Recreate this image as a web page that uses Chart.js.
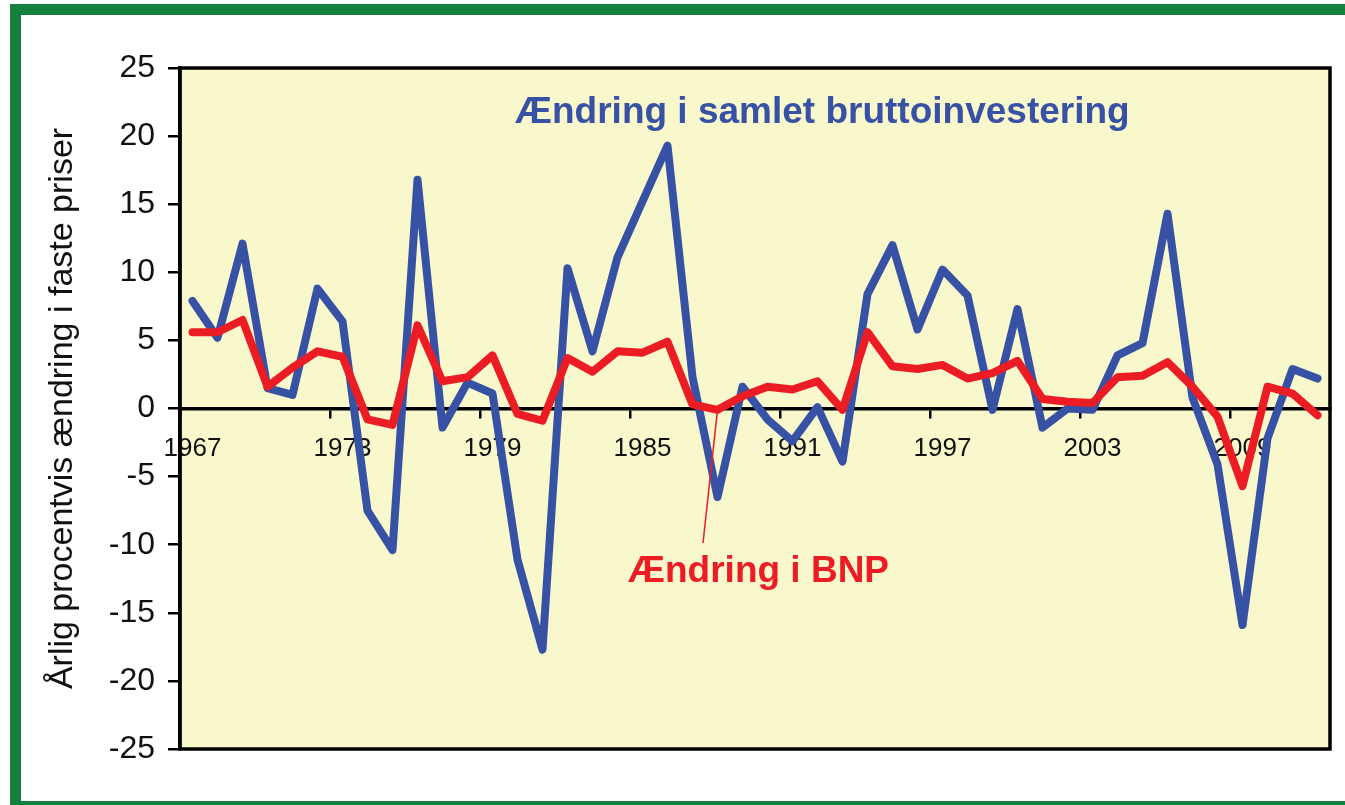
<!DOCTYPE html>
<html>
<head>
<meta charset="utf-8">
<script src="https://cdn.jsdelivr.net/npm/chart.js@4/dist/chart.umd.min.js"></script>
<style>
  html, body { margin: 0; padding: 0; background: #fff; overflow: hidden; }
  #frame {
    position: absolute; left: 10px; top: 4px; width: 1350px; height: 808px;
    border: 11px solid #16803e; box-sizing: border-box; background: #fff;
  }
  #chart { position: absolute; left: 0; top: 0; }
</style>
</head>
<body>
<div id="frame"></div>
<canvas id="chart" width="1345" height="805"></canvas>
<script>
const years = [
  1967, 1968, 1969, 1970, 1971, 1972, 1973, 1974, 1975, 1976,
  1977, 1978, 1979, 1980, 1981, 1982, 1983, 1984, 1985, 1986,
  1987, 1988, 1989, 1990, 1991, 1992, 1993, 1994, 1995, 1996,
  1997, 1998, 1999, 2000, 2001, 2002, 2003, 2004, 2005, 2006,
  2007, 2008, 2009, 2010, 2011, 2012
];

// Ændring i samlet bruttoinvestering (%)
const investering = [
  7.9, 5.2, 12.1, 1.5, 1.0, 8.8, 6.4, -7.5, -10.4, 16.8,
  -1.4, 1.9, 1.1, -11.1, -17.7, 10.3, 4.2, 11.1, 15.2, 19.3,
  2.3, -6.5, 1.6, -0.8, -2.4, 0.1, -3.9, 8.4, 12.0, 5.8,
  10.2, 8.3, -0.1, 7.3, -1.4, 0.0, -0.1, 3.9, 4.8, 14.3,
  0.8, -4.1, -15.9, -2.2, 2.9, 2.2
];

// Ændring i BNP (%)
const bnp = [
  5.6, 5.6, 6.5, 1.6, 3.0, 4.2, 3.8, -0.8, -1.2, 6.1,
  2.0, 2.3, 3.9, -0.4, -0.9, 3.7, 2.7, 4.2, 4.1, 4.9,
  0.3, -0.1, 0.9, 1.6, 1.4, 2.0, -0.1, 5.6, 3.1, 2.9,
  3.2, 2.2, 2.6, 3.5, 0.7, 0.5, 0.4, 2.3, 2.4, 3.4,
  1.6, -0.6, -5.7, 1.6, 1.1, -0.5
];

const labelEvery = 6;
const yTicks = { min: -25, max: 25, step: 5 };

const BLUE = '#3751a4';
const RED = '#ec1c24';
const FONT = 'Arial, "Liberation Sans", sans-serif';

const plotFrame = {
  id: 'plotFrame',
  beforeDraw(chart) {
    const { ctx, chartArea: a } = chart;
    ctx.save();
    ctx.fillStyle = '#f9f7cc';
    ctx.fillRect(a.left, a.top, a.right - a.left, a.bottom - a.top);
    ctx.restore();
  },
  beforeDatasetsDraw(chart) {
    const { ctx, chartArea: a } = chart;
    ctx.save();
    ctx.strokeStyle = '#000';
    ctx.lineWidth = 3.5;
    ctx.strokeRect(a.left, a.top, a.right - a.left, a.bottom - a.top);
    ctx.restore();
  }
};

const seriesLabels = {
  id: 'seriesLabels',
  afterDatasetsDraw(chart) {
    const { ctx } = chart;
    const x = chart.scales.x, y = chart.scales.y;
    ctx.save();
    // pointer from the 1988 BNP point down to its label
    ctx.strokeStyle = RED;
    ctx.lineWidth = 1.5;
    ctx.beginPath();
    ctx.moveTo(x.getPixelForValue(21), y.getPixelForValue(bnp[21]));
    ctx.lineTo(703, 543);
    ctx.stroke();

    ctx.font = 'bold 37px ' + FONT;
    ctx.textBaseline = 'alphabetic';
    ctx.textAlign = 'left';
    ctx.fillStyle = BLUE;
    ctx.fillText('Ændring i samlet bruttoinvestering', 515, 123);
    ctx.fillStyle = RED;
    ctx.fillText('Ændring i BNP', 628, 582);
    ctx.restore();
  }
};

new Chart(document.getElementById('chart'), {
  type: 'line',
  data: {
    labels: years,
    datasets: [
      {
        label: 'Ændring i BNP',
        data: bnp,
        borderColor: RED,
        borderWidth: 8,
        order: 1
      },
      {
        label: 'Ændring i samlet bruttoinvestering',
        data: investering,
        borderColor: BLUE,
        borderWidth: 8,
        order: 2
      }
    ]
  },
  options: {
    responsive: false,
    animation: false,
    events: [],
    layout: { padding: { left: 0, top: 68, right: 15, bottom: 56 } },
    elements: {
      point: { radius: 0 },
      line: { tension: 0, borderJoinStyle: 'round', borderCapStyle: 'round' }
    },
    plugins: {
      legend: { display: false },
      tooltip: { enabled: false }
    },
    scales: {
      x: {
        type: 'category',
        position: { y: 0 },
        offset: true,
        grid: {
          offset: true,
          drawOnChartArea: false,
          drawTicks: true,
          tickLength: 8,
          lineWidth: 2.5,
          color: (c) => (c.index % labelEvery === 0 ? '#000' : 'rgba(0,0,0,0)')
        },
        border: { display: true, color: '#000', width: 3.5 },
        ticks: {
          autoSkip: false,
          maxRotation: 0,
          padding: 17,
          color: '#111',
          font: { family: FONT, size: 26 },
          callback: (v, i) => (i % labelEvery === 0 ? String(years[i]) : '')
        }
      },
      y: {
        min: yTicks.min,
        max: yTicks.max,
        afterFit: (scale) => { scale.width = 180; },
        grid: {
          drawOnChartArea: false,
          drawTicks: true,
          tickLength: 12,
          lineWidth: 2.5,
          color: '#000'
        },
        border: { display: true, color: '#000', width: 3.5 },
        ticks: {
          stepSize: yTicks.step,
          padding: 13,
          color: '#111',
          font: { family: FONT, size: 32 }
        },
        title: {
          display: true,
          text: 'Årlig procentvis ændring i faste priser',
          color: '#111',
          font: { family: FONT, size: 34 },
          padding: { top: 42, bottom: 0 }
        }
      }
    }
  },
  plugins: [plotFrame, seriesLabels]
});
</script>
</body>
</html>
